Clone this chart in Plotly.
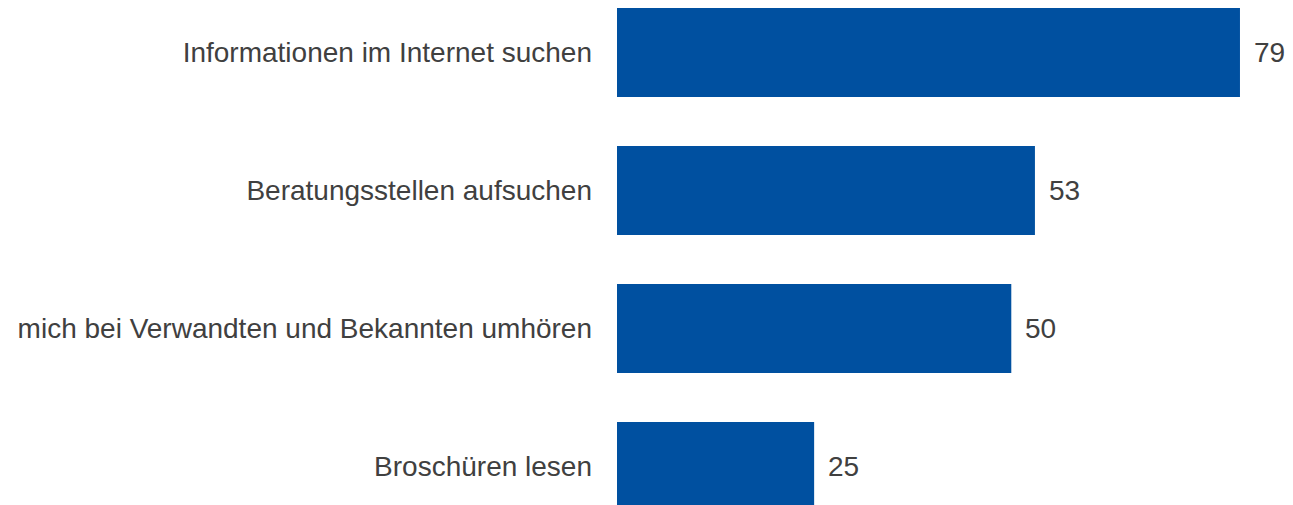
import plotly.graph_objects as go

categories = [
    "Informationen im Internet suchen",
    "Beratungsstellen aufsuchen",
    "mich bei Verwandten und Bekannten umhören",
    "Broschüren lesen",
]
values = [79, 53, 50, 25]

bar_color = "#0050A0"
text_color = "#404040"
font_family = "Liberation Sans"

fig = go.Figure()
fig.add_trace(go.Bar(
    x=values,
    y=categories,
    orientation="h",
    marker=dict(color=bar_color, line=dict(width=0)),
    hoverinfo="skip",
))

for c, v in zip(categories, values):
    fig.add_annotation(
        x=v, y=c, xref="x", yref="y",
        text=str(v), showarrow=False,
        xanchor="left", yanchor="middle", xshift=12,
        font=dict(family=font_family, size=28, color=text_color),
    )

fig.update_layout(
    width=1277, height=497,
    margin=dict(l=609, r=0, t=0, b=0),
    paper_bgcolor="white", plot_bgcolor="white",
    bargap=0.355,
    showlegend=False,
    font=dict(family=font_family, size=28, color=text_color),
    xaxis=dict(visible=False, range=[0, 84.71], fixedrange=True),
    yaxis=dict(
        type="category",
        categoryorder="array", categoryarray=categories,
        range=[3.279, -0.3225],
        showgrid=False, zeroline=False, showline=False,
        ticks="", ticklabelstandoff=24,
        tickfont=dict(family=font_family, size=28, color=text_color),
        fixedrange=True,
    ),
)

fig.write_html("out.html")
